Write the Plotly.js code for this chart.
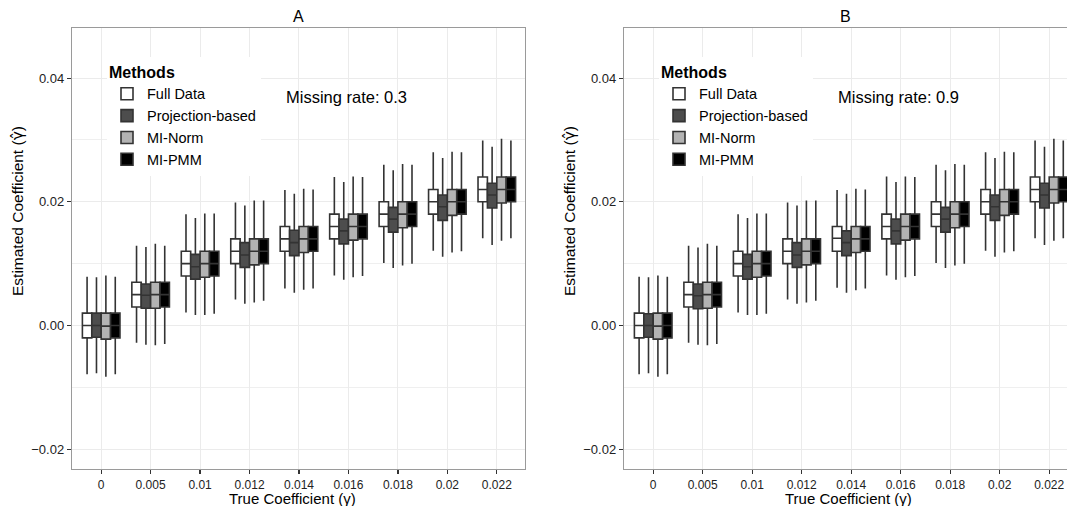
<!DOCTYPE html>
<html>
<head>
<meta charset="utf-8">
<script src="https://cdn.plot.ly/plotly-3.0.1.min.js"></script>
<style>html,body{margin:0;padding:0;background:#fff;}#chart{width:1067px;height:506px;}</style>
</head>
<body>
<div id="chart"></div>
<script>
const categories = ["0","0.005","0.01","0.012","0.014","0.016","0.018","0.02","0.022"];
const methods = ["Full Data","Projection-based","MI-Norm","MI-PMM"];

// Panel A (missing rate 0.3)
const A_full_hi  = [0.0079, 0.0129, 0.0180, 0.0199, 0.0219, 0.0240, 0.0260, 0.0280, 0.0299];
const A_full_q3  = [0.0020, 0.0070, 0.0120, 0.0140, 0.0160, 0.0180, 0.0200, 0.0220, 0.0240];
const A_full_med = [0.0000, 0.0050, 0.0100, 0.0120, 0.0140, 0.0160, 0.0180, 0.0200, 0.0220];
const A_full_q1  = [-0.0020, 0.0030, 0.0080, 0.0100, 0.0120, 0.0140, 0.0160, 0.0180, 0.0200];
const A_full_lo  = [-0.0079, -0.0028, 0.0021, 0.0042, 0.0060, 0.0081, 0.0101, 0.0121, 0.0141];

const A_proj_hi  = [0.0078, 0.0127, 0.0174, 0.0194, 0.0213, 0.0232, 0.0251, 0.0271, 0.0289];
const A_proj_q3  = [0.0020, 0.0067, 0.0115, 0.0134, 0.0154, 0.0172, 0.0191, 0.0211, 0.0230];
const A_proj_med = [0.0000, 0.0049, 0.0095, 0.0114, 0.0134, 0.0153, 0.0172, 0.0192, 0.0211];
const A_proj_q1  = [-0.0019, 0.0028, 0.0075, 0.0094, 0.0113, 0.0132, 0.0151, 0.0170, 0.0190];
const A_proj_lo  = [-0.0077, -0.0031, 0.0017, 0.0035, 0.0053, 0.0074, 0.0093, 0.0111, 0.0130];

const A_norm_hi  = [0.0081, 0.0132, 0.0181, 0.0202, 0.0221, 0.0241, 0.0261, 0.0281, 0.0302];
const A_norm_q3  = [0.0020, 0.0070, 0.0120, 0.0140, 0.0160, 0.0180, 0.0200, 0.0220, 0.0240];
const A_norm_med = [-0.0001, 0.0050, 0.0100, 0.0120, 0.0140, 0.0160, 0.0180, 0.0200, 0.0220];
const A_norm_q1  = [-0.0022, 0.0028, 0.0078, 0.0098, 0.0118, 0.0138, 0.0158, 0.0178, 0.0198];
const A_norm_lo  = [-0.0083, -0.0032, 0.0017, 0.0037, 0.0058, 0.0078, 0.0097, 0.0118, 0.0137];

const A_pmm_hi  = [0.0079, 0.0129, 0.0181, 0.0202, 0.0220, 0.0240, 0.0260, 0.0280, 0.0299];
const A_pmm_q3  = [0.0020, 0.0070, 0.0120, 0.0140, 0.0160, 0.0180, 0.0200, 0.0220, 0.0240];
const A_pmm_med = [0.0000, 0.0050, 0.0100, 0.0120, 0.0140, 0.0160, 0.0180, 0.0200, 0.0220];
const A_pmm_q1  = [-0.0020, 0.0030, 0.0080, 0.0100, 0.0120, 0.0140, 0.0160, 0.0180, 0.0200];
const A_pmm_lo  = [-0.0079, -0.0030, 0.0019, 0.0040, 0.0060, 0.0080, 0.0100, 0.0120, 0.0141];

// Panel B (missing rate 0.9)
const B_full_hi  = [0.0079, 0.0129, 0.0180, 0.0199, 0.0219, 0.0241, 0.0260, 0.0280, 0.0299];
const B_full_q3  = [0.0020, 0.0070, 0.0120, 0.0140, 0.0160, 0.0180, 0.0200, 0.0220, 0.0240];
const B_full_med = [0.0000, 0.0050, 0.0100, 0.0120, 0.0141, 0.0160, 0.0180, 0.0200, 0.0220];
const B_full_q1  = [-0.0020, 0.0030, 0.0080, 0.0100, 0.0120, 0.0140, 0.0160, 0.0180, 0.0200];
const B_full_lo  = [-0.0079, -0.0028, 0.0021, 0.0042, 0.0061, 0.0081, 0.0101, 0.0121, 0.0141];

const B_proj_hi  = [0.0078, 0.0126, 0.0174, 0.0194, 0.0213, 0.0232, 0.0251, 0.0271, 0.0289];
const B_proj_q3  = [0.0019, 0.0067, 0.0115, 0.0134, 0.0153, 0.0172, 0.0191, 0.0211, 0.0230];
const B_proj_med = [0.0000, 0.0048, 0.0095, 0.0114, 0.0134, 0.0153, 0.0172, 0.0192, 0.0211];
const B_proj_q1  = [-0.0019, 0.0027, 0.0075, 0.0094, 0.0113, 0.0132, 0.0151, 0.0170, 0.0190];
const B_proj_lo  = [-0.0077, -0.0031, 0.0017, 0.0035, 0.0053, 0.0074, 0.0093, 0.0111, 0.0130];

const B_norm_hi  = [0.0081, 0.0132, 0.0181, 0.0202, 0.0221, 0.0241, 0.0261, 0.0281, 0.0302];
const B_norm_q3  = [0.0020, 0.0070, 0.0120, 0.0140, 0.0160, 0.0180, 0.0200, 0.0220, 0.0240];
const B_norm_med = [-0.0001, 0.0050, 0.0100, 0.0120, 0.0140, 0.0160, 0.0180, 0.0200, 0.0220];
const B_norm_q1  = [-0.0022, 0.0028, 0.0078, 0.0098, 0.0118, 0.0138, 0.0158, 0.0178, 0.0198];
const B_norm_lo  = [-0.0083, -0.0032, 0.0017, 0.0037, 0.0057, 0.0078, 0.0097, 0.0118, 0.0137];

const B_pmm_hi  = [0.0079, 0.0129, 0.0181, 0.0202, 0.0220, 0.0240, 0.0260, 0.0280, 0.0299];
const B_pmm_q3  = [0.0020, 0.0070, 0.0120, 0.0140, 0.0160, 0.0180, 0.0200, 0.0220, 0.0240];
const B_pmm_med = [0.0000, 0.0050, 0.0100, 0.0120, 0.0140, 0.0160, 0.0180, 0.0200, 0.0220];
const B_pmm_q1  = [-0.0020, 0.0030, 0.0080, 0.0100, 0.0120, 0.0140, 0.0160, 0.0180, 0.0200];
const B_pmm_lo  = [-0.0079, -0.0030, 0.0019, 0.0040, 0.0060, 0.0080, 0.0100, 0.0120, 0.0141];

const panelTitles = ["A", "B"];
const missingLabels = ["Missing rate: 0.3", "Missing rate: 0.9"];
const xTitle = "True Coefficient (γ)";
const yTitle = "Estimated Coefficient (<span style=\"font-family:'DejaVu Sans'\">γ\u0302</span>)";

const fills = ["#ffffff", "#4d4d4d", "#b3b3b3", "#000000"];
const lineColor = "#333333";
const FONT = "Liberation Sans, Arial, Helvetica, sans-serif";

const panels = [
  {ax: "x", ay: "y", legend: "legend", data: [
    [A_full_lo, A_full_q1, A_full_med, A_full_q3, A_full_hi],
    [A_proj_lo, A_proj_q1, A_proj_med, A_proj_q3, A_proj_hi],
    [A_norm_lo, A_norm_q1, A_norm_med, A_norm_q3, A_norm_hi],
    [A_pmm_lo, A_pmm_q1, A_pmm_med, A_pmm_q3, A_pmm_hi]]},
  {ax: "x2", ay: "y2", legend: "legend2", data: [
    [B_full_lo, B_full_q1, B_full_med, B_full_q3, B_full_hi],
    [B_proj_lo, B_proj_q1, B_proj_med, B_proj_q3, B_proj_hi],
    [B_norm_lo, B_norm_q1, B_norm_med, B_norm_q3, B_norm_hi],
    [B_pmm_lo, B_pmm_q1, B_pmm_med, B_pmm_q3, B_pmm_hi]]}
];

const traces = [];
panels.forEach(function(p, pi) {
  methods.forEach(function(m, mi) {
    const d = p.data[mi];
    traces.push({
      type: "box",
      name: m,
      x: categories,
      lowerfence: d[0], q1: d[1], median: d[2], q3: d[3], upperfence: d[4],
      xaxis: p.ax, yaxis: p.ay,
      legend: p.legend,
      offsetgroup: m,
      fillcolor: fills[mi],
      line: {color: lineColor, width: 1.6},
      whiskerwidth: 0,
      boxpoints: false,
      hoverinfo: "skip"
    });
  });
});

function xaxisDef(domain, range, anchor) {
  return {
    domain: domain, anchor: anchor, type: "category",
    categoryorder: "array", categoryarray: categories,
    range: range,
    showgrid: true, gridcolor: "#ebebeb", gridwidth: 1,
    showline: true, linecolor: "#9a9a9a", linewidth: 1.2, mirror: true,
    ticks: "outside", ticklen: 4, tickcolor: "#333", tickwidth: 1.2,
    tickfont: {family: FONT, size: 12, color: "#222"},
    zeroline: false, automargin: false, fixedrange: true
  };
}
function yaxisDef(domain, anchor) {
  return {
    domain: domain, anchor: anchor,
    range: [-0.0232, 0.0481],
    tick0: 0, dtick: 0.02, tickformat: ".2f",
    showgrid: true, gridcolor: "#ebebeb", gridwidth: 1,
    minor: {dtick: 0.01, showgrid: true, gridcolor: "#efefef", gridwidth: 1},
    showline: true, linecolor: "#9a9a9a", linewidth: 1.2, mirror: true,
    ticks: "outside", ticklen: 4, tickcolor: "#333", tickwidth: 1.2,
    tickfont: {family: FONT, size: 13, color: "#222"},
    zeroline: false, automargin: false, fixedrange: true
  };
}

const W = 1067, H = 506;
const yDom = [1 - 469 / H, 1 - 28 / H];

function legendDef(xpx) {
  return {
    x: xpx / W, y: 1 - 57 / H, xanchor: "left", yanchor: "top",
    bgcolor: "#ffffff", borderwidth: 0,
    title: {text: "<b>Methods</b>", font: {family: FONT, size: 16, color: "#000"}},
    font: {family: FONT, size: 14.5, color: "#000"},
    tracegroupgap: 0, itemwidth: 30
  };
}

function ann(text, xpx, ypx, size, extra) {
  return Object.assign({text: text, xref: "paper", yref: "paper", x: xpx / W, y: 1 - ypx / H,
    xanchor: "center", yanchor: "middle", showarrow: false,
    font: {family: FONT, size: size, color: "#000"}}, extra || {});
}

const layout = {
  width: W, height: H,
  margin: {l: 0, r: 0, t: 0, b: 0},
  paper_bgcolor: "#ffffff", plot_bgcolor: "#ffffff",
  boxmode: "group", boxgap: 0.24, boxgroupgap: 0,
  xaxis: xaxisDef([72 / W, 525 / W], [-0.59, 8.57], "y"),
  yaxis: yaxisDef(yDom, "x"),
  xaxis2: xaxisDef([624 / W, 1], [-0.59, 8.36], "y2"),
  yaxis2: yaxisDef(yDom, "x2"),
  legend: legendDef(107),
  legend2: legendDef(659),
  showlegend: true,
  annotations: [
    ann(panelTitles[0], 298.5, 16, 16),
    ann(panelTitles[1], 845, 16, 16),
    ann(missingLabels[0], 284, 97, 16.5, {xanchor: "left"}),
    ann(missingLabels[1], 836, 97, 16.5, {xanchor: "left"}),
    ann(xTitle, 292, 498, 15),
    ann(xTitle, 848, 498, 15),
    ann(yTitle, 18, 211, 15.5, {textangle: -90}),
    ann(yTitle, 570, 211, 15.5, {textangle: -90})
  ]
};

Plotly.newPlot("chart", traces, layout, {displayModeBar: false, staticPlot: true});
</script>
</body>
</html>
